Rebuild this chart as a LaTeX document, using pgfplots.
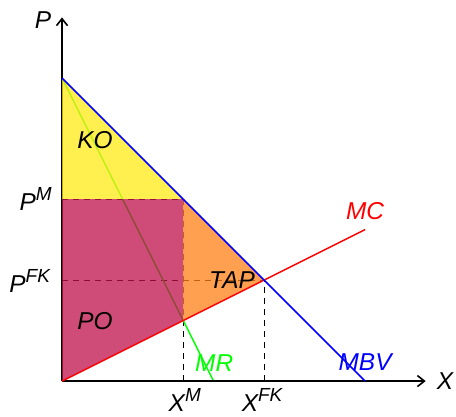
\documentclass[border=0pt]{standalone}
\usepackage{pgfplots}
\pgfplotsset{compat=1.18}
\usepackage{fontspec}
\setmainfont{Liberation Sans}
\usetikzlibrary{arrows.meta}
\definecolor{koY}{RGB}{255,235,21}
\definecolor{poM}{RGB}{192,16,75}
\definecolor{tapO}{RGB}{255,128,21}
\tikzset{lab/.style={font=\fontsize{24.5}{28}\selectfont\itshape, inner sep=1bp}}
\newcommand{\supx}[1]{\raisebox{0.42em}{\fontsize{19}{19}\selectfont #1}}
\begin{document}
\begin{tikzpicture}
\begin{axis}[
  x=30.3bp, y=30.3bp,
  xmin=-2.046, xmax=13.0, ymin=-1.155, ymax=12.574,
  hide axis, clip=false,
]
\path (axis cs:-2.046,-1.155) rectangle (axis cs:13.0,12.574);
% dashed guides
\addplot[black, dash pattern=on 6bp off 5bp, line width=0.8bp] coordinates {(0,6) (4,6) (4,0)};
\addplot[black, dash pattern=on 6bp off 5bp, line width=0.8bp] coordinates {(0,3.3333) (6.6667,3.3333) (6.6667,0)};
% MR
\addplot[green, line width=1.5bp] coordinates {(0,10) (5,0)};
% axes
\draw[line width=1.7bp, -{Straight Barb[length=7bp,width=11bp,line width=1.6bp]}] (axis cs:0,0) -- (axis cs:12,0);
\draw[line width=1.7bp, -{Straight Barb[length=7bp,width=11bp,line width=1.6bp]}] (axis cs:0,0) -- (axis cs:0,12);
% areas
\addplot[draw=none, fill=koY, fill opacity=0.75] coordinates {(0,10) (0,6) (4,6)} -- cycle;
\addplot[draw=none, fill=poM, fill opacity=0.75] coordinates {(0,6) (4,6) (4,2) (0,0)} -- cycle;
\addplot[draw=none, fill=tapO, fill opacity=0.75] coordinates {(4,6) (4,2) (6.6667,3.3333)} -- cycle;
% MC and MBV
\addplot[red, line width=1.5bp] coordinates {(0,0) (10,5)};
\addplot[blue, line width=1.5bp] coordinates {(0,10) (10,0)};
% labels
\node[lab] at (axis cs:-0.63,11.91) {P};
\node[lab] at (axis cs:12.64,0) {X};
\node[lab, anchor=east] at (axis cs:-0.3,6.0) {P\supx{M}};
\node[lab, anchor=east] at (axis cs:-0.36,3.3) {P\supx{FK}};
\node[lab, anchor=north] at (axis cs:4.05,-0.2) {X\supx{M}};
\node[lab, anchor=north] at (axis cs:6.6,-0.2) {X\supx{FK}};
\node[lab] at (axis cs:1.09,7.95) {KO};
\node[lab] at (axis cs:1.09,1.98) {PO};
\node[lab] at (axis cs:5.61,3.33) {TAP};
\node[lab, text=green] at (axis cs:5.02,0.59) {MR};
\node[lab, text=red] at (axis cs:10.0,5.61) {MC};
\node[lab, text=blue] at (axis cs:10.0,0.63) {MBV};
\end{axis}
\end{tikzpicture}
\end{document}
